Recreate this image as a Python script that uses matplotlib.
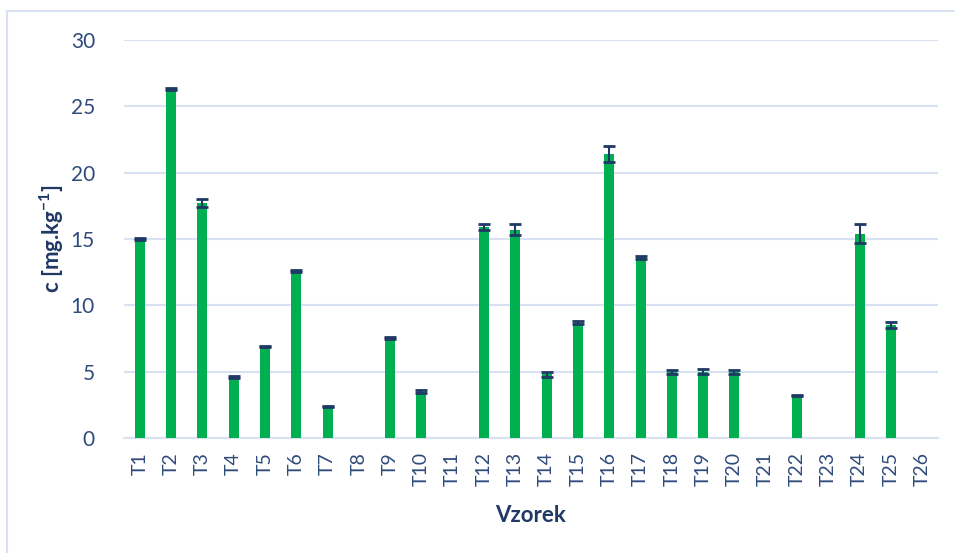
import numpy as np
import matplotlib.pyplot as plt
from matplotlib.lines import Line2D

samples = ["T" + str(i) for i in range(1, 27)]
conc = [15.0, 26.3, 17.7, 4.6, 6.9, 12.6, 2.4, 0.0, 7.5, 3.5, 0.0,
        15.9, 15.7, 4.8, 8.7, 21.4, 13.6, 5.0, 5.0, 5.0, 0.0, 3.2,
        0.0, 15.4, 8.5, 0.0]
err = [0.05, 0.05, 0.3, 0.05, 0.03, 0.08, 0.03, 0.0, 0.08, 0.08, 0.0,
       0.2, 0.4, 0.2, 0.1, 0.6, 0.12, 0.15, 0.2, 0.15, 0.0, 0.05,
       0.0, 0.7, 0.25, 0.0]

txt = "#1F3864"
grid_c = "#D9E2F3"

plt.rcParams['font.family'] = ['Lato', 'DejaVu Sans']
plt.rcParams['mathtext.fontset'] = 'custom'
plt.rcParams['mathtext.bf'] = 'Lato:bold'
plt.rcParams['mathtext.rm'] = 'Lato'

fig = plt.figure(figsize=(9.55, 5.53), dpi=100)
ax = fig.add_axes([0.130, 0.208, 0.852, 0.720])

x = np.arange(len(samples))
conc = np.array(conc)
err = np.array(err)
has = conc > 0
ax.bar(x, conc, width=0.32, color="#00B050", zorder=3)
ax.errorbar(x[has], conc[has], yerr=err[has], fmt="none", ecolor=txt,
            elinewidth=1.5, capsize=4.3, capthick=2, zorder=4)

ax.set_xlim(-0.5, len(samples) - 0.5)
ax.set_ylim(0, 30)
ax.set_yticks(np.arange(0, 31, 5))
ax.yaxis.grid(True, color=grid_c, linewidth=1.5, zorder=0)
ax.set_axisbelow(True)
for s in ["top", "right", "left"]:
    ax.spines[s].set_visible(False)
ax.spines["bottom"].set_color(grid_c)
ax.spines["bottom"].set_linewidth(1.5)

ax.set_xticks(x)
ax.set_xticklabels(samples, rotation=90, fontsize=14, color="#2F4B7C")
ax.tick_params(axis="both", length=0)
ax.tick_params(axis="y", labelsize=15, labelcolor="#2F4B7C", pad=21)
ax.tick_params(axis="x", pad=10)

ax.set_xlabel("Vzorek", fontsize=16, fontweight="bold", color=txt, labelpad=14)
ax.set_ylabel(r"c [mg.kg$^{\mathbf{-1}}$]", fontsize=16, fontweight="bold",
              color=txt)
ax.yaxis.set_label_coords(-0.071, 0.5)

# outer border of chart area
fig.add_artist(Line2D([7 / 955, 1], [1 - 11 / 553, 1 - 11 / 553],
                      transform=fig.transFigure, color=grid_c, linewidth=1.5))
fig.add_artist(Line2D([7 / 955, 7 / 955], [0, 1 - 11 / 553],
                      transform=fig.transFigure, color=grid_c, linewidth=1.5))

fig.savefig("out.png", dpi=100)
